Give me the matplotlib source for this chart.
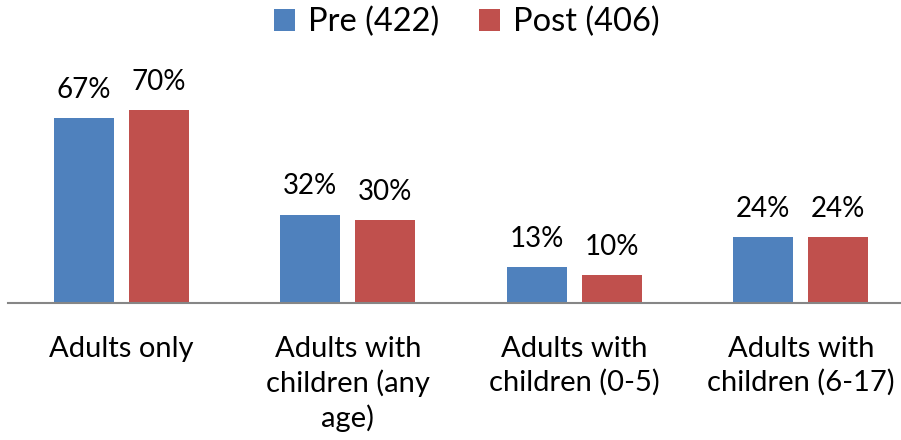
import matplotlib.pyplot as plt
import numpy as np

categories = ["Adults only", "Adults with\nchildren (any\nage)", "Adults with\nchildren (0-5)", "Adults with\nchildren (6-17)"]
pre = [67, 32, 13, 24]
post = [70, 30, 10, 24]
series_names = ["Pre (422)", "Post (406)"]

plt.rcParams.update({
    "font.family": ["Lato", "DejaVu Sans"],
    "font.size": 20,
})

fig = plt.figure(figsize=(9.01, 4.40), dpi=100)
# axes spans from x=8px to ~914px, baseline at y=303px
ax = fig.add_axes([8 / 901, (440 - 303) / 440, 906 / 901, 220.6 / 440])

x = np.arange(len(categories))
width = 60 / 227
offset = 37.5 / 227

bars_pre = ax.bar(x - offset, pre, width, color="#4F81BD", label=series_names[0])
bars_post = ax.bar(x + offset, post, width, color="#C0504D", label=series_names[1])

for bars, vals in [(bars_pre, pre), (bars_post, post)]:
    for b, v in zip(bars, vals):
        ax.annotate(f"{v}%", (b.get_x() + b.get_width() / 2, v),
                    xytext=(0, 11), textcoords="offset points",
                    ha="center", va="bottom", fontsize=20)

ax.set_xlim(-0.5, 3.5)
ax.set_ylim(0, 80)
ax.set_yticks([])
for s in ["top", "left", "right"]:
    ax.spines[s].set_visible(False)
ax.spines["bottom"].set_color("#868686")
ax.spines["bottom"].set_linewidth(1.5)

ax.set_xticks(x)
ax.set_xticklabels(categories, fontsize=21, linespacing=1.32, va="top")
ax.tick_params(axis="x", length=0, pad=24)

fig.legend(loc="center", bbox_to_anchor=(467 / 901, 1 - 22 / 440), ncol=2,
           frameon=False, fontsize=23.5, handlelength=0.65, handleheight=0.65,
           handletextpad=0.4, columnspacing=1.2)

fig.savefig("out.png", dpi=100)
